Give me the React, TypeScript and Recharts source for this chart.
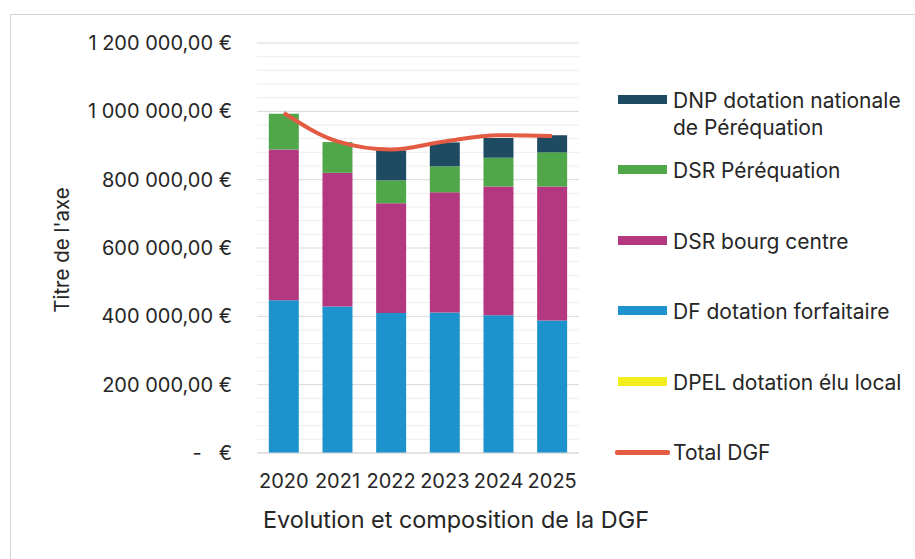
import React from "react";
import {
  ComposedChart,
  Bar,
  Line,
  XAxis,
  YAxis,
  CartesianGrid,
  Label,
} from "recharts";

const years = ["2020", "2021", "2022", "2023", "2024", "2025"];
const dpel = [0, 0, 0, 0, 0, 0];
const dfForfaitaire = [447000, 429000, 410000, 411000, 403000, 388000];
const dsrBourgCentre = [441000, 391000, 321000, 352000, 377000, 392000];
const dsrPerequation = [105000, 90000, 67000, 76000, 84000, 100000];
const dnpNationale = [0, 0, 88000, 70000, 58000, 50000];
const totalDgf = [995000, 912000, 888000, 912000, 930000, 928000];

const yTicks = [0, 200000, 400000, 600000, 800000, 1000000, 1200000];
const yMinorTicks = [
  40000, 80000, 120000, 160000, 240000, 280000, 320000, 360000, 440000, 480000,
  520000, 560000, 640000, 680000, 720000, 760000, 840000, 880000, 920000, 960000,
  1040000, 1080000, 1120000, 1160000,
];

const FONT = "Inter, 'Noto Sans', sans-serif";
const TEXT = "#262626";

const C_DPEL = "#F2EE1E";
const C_DF = "#1E92CD";
const C_BOURG = "#B4387F";
const C_DSR = "#4FA74A";
const C_DNP = "#1E4A62";
const C_TOTAL = "#E35B43";

const data = years.map((y, i) => ({
  year: y,
  dpel: dpel[i],
  df: dfForfaitaire[i],
  bourg: dsrBourgCentre[i],
  dsr: dsrPerequation[i],
  dnp: dnpNationale[i],
  total: totalDgf[i],
}));

const legendItems = [
  { label: "DNP dotation nationale de Péréquation", color: C_DNP, kind: "bar" },
  { label: "DSR Péréquation", color: C_DSR, kind: "bar" },
  { label: "DSR bourg centre", color: C_BOURG, kind: "bar" },
  { label: "DF dotation forfaitaire", color: C_DF, kind: "bar" },
  { label: "DPEL dotation élu local", color: C_DPEL, kind: "bar" },
  { label: "Total DGF", color: C_TOTAL, kind: "line" },
];

const formatEuro = (v: number) => {
  if (v === 0) return "-\u00A0\u00A0\u00A0€";
  const s = Math.round(v)
    .toString()
    .replace(/\B(?=(\d{3})+(?!\d))/g, " ");
  return `${s},00 €`;
};

export default function App() {
  return (
    <div
      style={{
        position: "absolute",
        left: 0,
        top: 0,
        width: 915,
        height: 559,
        background: "#ffffff",
        overflow: "hidden",
        fontFamily: FONT,
      }}
    >
      <div
        style={{
          position: "absolute",
          left: 10,
          top: 14,
          width: 920,
          height: 560,
          borderTop: "1.5px solid #d4d4d4",
          borderLeft: "1.5px solid #d4d4d4",
        }}
      />
      <div style={{ position: "absolute", left: 0, top: 0 }}>
        <ComposedChart
          width={915}
          height={559}
          data={data}
          margin={{ top: 43, right: 336, bottom: 0, left: 0 }}
          barCategoryGap="22%"
        >
          <CartesianGrid
            vertical={false}
            stroke="#EEEEEE"
            horizontalValues={yMinorTicks}
          />
          <CartesianGrid vertical={false} stroke="#D9D9D9" />
          <XAxis
            dataKey="year"
            height={106}
            tickLine={false}
            tickSize={0}
            tickMargin={21}
            axisLine={{ stroke: "#D9D9D9" }}
            tick={{ fill: TEXT, fontSize: 20, fontFamily: FONT }}
          >
            <Label
              content={() => (
                <text
                  x={456}
                  y={528}
                  textAnchor="middle"
                  fill={TEXT}
                  fontSize={23.4}
                  fontFamily={FONT}
                >
                  Evolution et composition de la DGF
                </text>
              )}
            />
          </XAxis>
          <YAxis
            width={257}
            domain={[0, 1200000]}
            ticks={yTicks}
            interval={0}
            tickLine={false}
            tickSize={0}
            tickMargin={25}
            axisLine={false}
            tickFormatter={formatEuro}
            tick={{ fill: TEXT, fontSize: 20, fontFamily: FONT }}
          >
            <Label
              content={() => (
                <text
                  x={69}
                  y={250}
                  transform="rotate(-90, 69, 250)"
                  textAnchor="middle"
                  fill={TEXT}
                  fontSize={20.5}
                  fontFamily={FONT}
                >
                  Titre de l'axe
                </text>
              )}
            />
          </YAxis>
          <Bar dataKey="dpel" stackId="a" fill={C_DPEL} isAnimationActive={false} />
          <Bar dataKey="df" stackId="a" fill={C_DF} isAnimationActive={false} />
          <Bar dataKey="bourg" stackId="a" fill={C_BOURG} isAnimationActive={false} />
          <Bar dataKey="dsr" stackId="a" fill={C_DSR} isAnimationActive={false} />
          <Bar dataKey="dnp" stackId="a" fill={C_DNP} isAnimationActive={false} />
          <Line
            type="monotone"
            dataKey="total"
            stroke={C_TOTAL}
            strokeWidth={4}
            dot={false}
            activeDot={false}
            isAnimationActive={false}
          />
        </ComposedChart>
      </div>
      <div style={{ position: "absolute", left: 615, top: 86.5 }}>
        {legendItems.map((it) => (
          <div
            key={it.label}
            style={{
              display: "flex",
              alignItems: "flex-start",
              height: 70.6,
            }}
          >
            <div
              style={{
                width: it.kind === "line" ? 55 : 49,
                marginLeft: it.kind === "line" ? 0 : 3,
                height: it.kind === "line" ? 5 : 9,
                marginTop: it.kind === "line" ? 11 : 8,
                background: it.color,
                borderRadius: it.kind === "line" ? 2 : 0,
                flex: "none",
              }}
            />
            <div
              style={{
                marginLeft: it.kind === "line" ? 3 : 6,
                width: 240,
                fontSize: 21,
                lineHeight: "27px",
                color: TEXT,
                whiteSpace: "normal",
              }}
            >
              {it.label}
            </div>
          </div>
        ))}
      </div>
    </div>
  );
}
